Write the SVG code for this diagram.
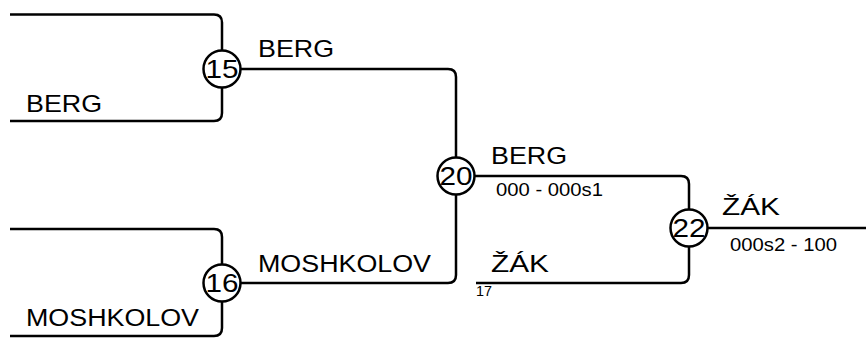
<svg xmlns="http://www.w3.org/2000/svg" width="866" height="338" viewBox="0 0 866 338">
<style>
.ln{fill:none;stroke:#000;stroke-width:2.5}
.nd{fill:#fff;stroke:#000;stroke-width:2.5}
.t{font-family:"Liberation Sans",Arial,sans-serif;font-size:24.5px;fill:#000}
.s{font-family:"Liberation Sans",Arial,sans-serif;font-size:17.5px;fill:#000}
.n{font-family:"Liberation Sans",Arial,sans-serif;font-size:26px;fill:#000;text-anchor:middle}
.x{font-family:"Liberation Sans",Arial,sans-serif;font-size:14px;fill:#000}
</style>
<rect width="866" height="338" fill="#fff"/>
<g id="connectors">
<path class="ln" d="M10,14.5 H214 Q222,14.5 222,22.5 V113 Q222,121 214,121 H10"/>
<path class="ln" d="M10,229 H214 Q222,229 222,237 V328 Q222,336 214,336 H10"/>
<path class="ln" d="M222,69 H448 Q456,69 456,77 V275 Q456,283 448,283 H222"/>
<path class="ln" d="M456,176 H681 Q689,176 689,184 V275 Q689,283 681,283 H476"/>
<path class="ln" d="M689,228 H866"/>
</g>
<g id="n15"><circle class="nd" cx="222" cy="69" r="18.5"/><text class="n" x="222" y="78" textLength="33" lengthAdjust="spacingAndGlyphs">15</text></g>
<g id="n16"><circle class="nd" cx="222" cy="283" r="18.5"/><text class="n" x="222" y="292" textLength="33" lengthAdjust="spacingAndGlyphs">16</text></g>
<g id="n20"><circle class="nd" cx="456" cy="176" r="18.5"/><text class="n" x="456" y="185" textLength="33" lengthAdjust="spacingAndGlyphs">20</text></g>
<g id="n22"><circle class="nd" cx="689" cy="228" r="18.5"/><text class="n" x="689" y="237" textLength="33" lengthAdjust="spacingAndGlyphs">22</text></g>
<g id="labels">
<text class="t" x="258" y="57" textLength="76" lengthAdjust="spacingAndGlyphs">BERG</text>
<text class="t" x="26" y="111.5" textLength="76" lengthAdjust="spacingAndGlyphs">BERG</text>
<text class="t" x="258" y="272" textLength="173" lengthAdjust="spacingAndGlyphs">MOSHKOLOV</text>
<text class="t" x="26" y="326" textLength="173" lengthAdjust="spacingAndGlyphs">MOSHKOLOV</text>
<text class="t" x="491" y="164" textLength="76" lengthAdjust="spacingAndGlyphs">BERG</text>
<text class="s" x="496" y="196" textLength="107" lengthAdjust="spacingAndGlyphs">000 - 000s1</text>
<text class="t" x="491" y="272" textLength="58" lengthAdjust="spacingAndGlyphs">ŽÁK</text>
<text class="x" x="476" y="296" textLength="16" lengthAdjust="spacingAndGlyphs">17</text>
<text class="t" x="722" y="215" textLength="58" lengthAdjust="spacingAndGlyphs">ŽÁK</text>
<text class="s" x="730" y="251" textLength="107" lengthAdjust="spacingAndGlyphs">000s2 - 100</text>
</g>
</svg>
